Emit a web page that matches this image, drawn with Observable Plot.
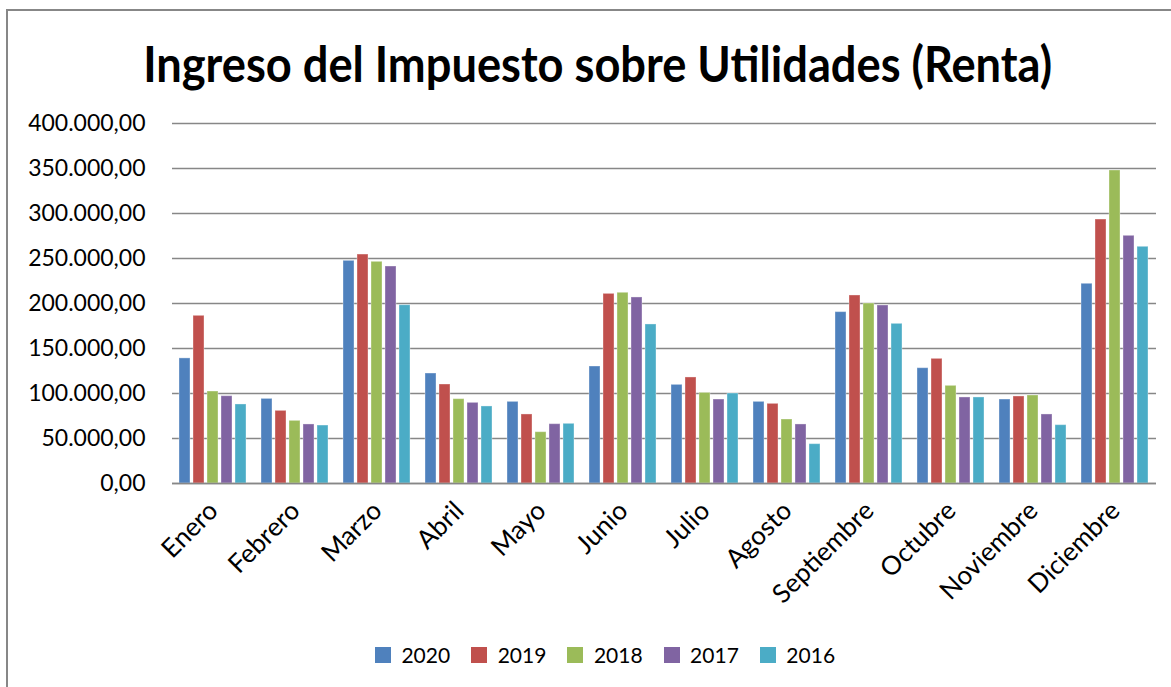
<!DOCTYPE html>
<html>
<head>
<meta charset="utf-8">
<script src="https://cdn.jsdelivr.net/npm/d3@7"></script>
<script src="https://cdn.jsdelivr.net/npm/@observablehq/plot@0.6"></script>
<style>
  html, body { margin: 0; padding: 0; background: #fff; }
  #page { position: relative; width: 1171px; height: 687px; overflow: hidden; background: #fff; font-family: Lato, "Open Sans", sans-serif; color: #000; }
  #frame { position: absolute; left: 6px; top: 9px; width: 1300px; height: 800px; border-left: 2px solid #878787; border-top: 2px solid #878787; }
  #title { position: absolute; left: 0; top: 38px; width: 1171px; text-align: center; font-weight: 700; font-size: 50px; line-height: 1; white-space: nowrap; }
  #title span { display: inline-block; transform-origin: center; }
  #chart { position: absolute; left: 0; top: 100px; }
  #chart g[aria-label^="fx-axis"] { font-size: 26px; }
  #legend { position: absolute; left: 0; top: 638px; width: 1171px; display: flex; justify-content: center; padding-left: 60px; box-sizing: border-box; }
</style>
</head>
<body>
<div id="page">
  <div id="frame"></div>
  <div id="title"><span>Ingreso del Impuesto sobre Utilidades (Renta)</span></div>
  <div id="chart"></div>
  <div id="legend"></div>
</div>
<script>
const months = ["Enero","Febrero","Marzo","Abril","Mayo","Junio","Julio","Agosto","Septiembre","Octubre","Noviembre","Diciembre"];
const years = ["2020","2019","2018","2017","2016"];
const v2020 = [139000, 94000, 247400, 122200, 90700, 130000, 109600, 90700, 190400, 128100, 93300, 221900];
const v2019 = [186300, 80700, 254400, 110000, 76700, 210700, 117800, 88500, 208900, 138500, 96700, 293300];
const v2018 = [102200, 69600, 246300, 93700, 57000, 211900, 100700, 71100, 200000, 108500, 97800, 347800];
const v2017 = [97000, 65600, 241100, 89600, 65900, 206700, 93300, 65600, 197800, 95600, 76700, 275200];
const v2016 = [87800, 64400, 198100, 85600, 66300, 176700, 100000, 43700, 177400, 95600, 64800, 263000];
const colors = ["#4F81BD", "#C0504D", "#9BBB59", "#8064A2", "#4BACC6"];
const yTicks = [0, 50000, 100000, 150000, 200000, 250000, 300000, 350000, 400000];

const series = [v2020, v2019, v2018, v2017, v2016];
const data = months.flatMap((m, i) => years.map((y, j) => ({month: m, year: y, value: series[j][i]})));

const loc = d3.formatLocale({decimal: ",", thousands: ".", grouping: [3], currency: ["", ""]});
const fmt = loc.format(",.2f");

const chart = Plot.plot({
  width: 1171,
  height: 520,
  marginLeft: 171,
  marginRight: 14,
  marginTop: 23,
  marginBottom: 137,
  style: {fontFamily: "Lato, 'Open Sans', sans-serif", fontSize: "23px", color: "#000", background: "transparent", overflow: "visible"},
  facet: {data: data, x: "month"},
  fx: {domain: months, padding: 0, axis: "bottom", label: null, tickRotate: -45, tickSize: 0, tickPadding: 23},
  x: {domain: years, axis: null, paddingInner: 0.18, paddingOuter: 0.35},
  y: {domain: [0, 400000], ticks: yTicks, tickFormat: fmt, tickSize: 0, tickPadding: 27, label: null},
  color: {domain: years, range: colors},
  marks: [
    Plot.ruleY(yTicks, {stroke: "#878787", strokeWidth: 1.6}),
    Plot.barY(data, {x: "year", y: "value", fill: "year", stroke: "#ffffff", strokeOpacity: 0.35, strokeWidth: 1}),
    Plot.ruleY([0], {stroke: "#878787", strokeWidth: 1.6})
  ]
});
document.getElementById("chart").appendChild(chart);

const legend = Plot.legend({
  color: {domain: years, range: colors},
  legend: "swatches",
  swatchSize: 16,
  style: {fontFamily: "Lato, 'Open Sans', sans-serif", fontSize: "21px", color: "#000"}
});
document.getElementById("legend").appendChild(legend);

// fit the title width to the reference
const span = document.querySelector("#title span");
const w = span.getBoundingClientRect().width;
span.style.transform = `translateX(12px) scaleX(${909 / w})`;
</script>
</body>
</html>
